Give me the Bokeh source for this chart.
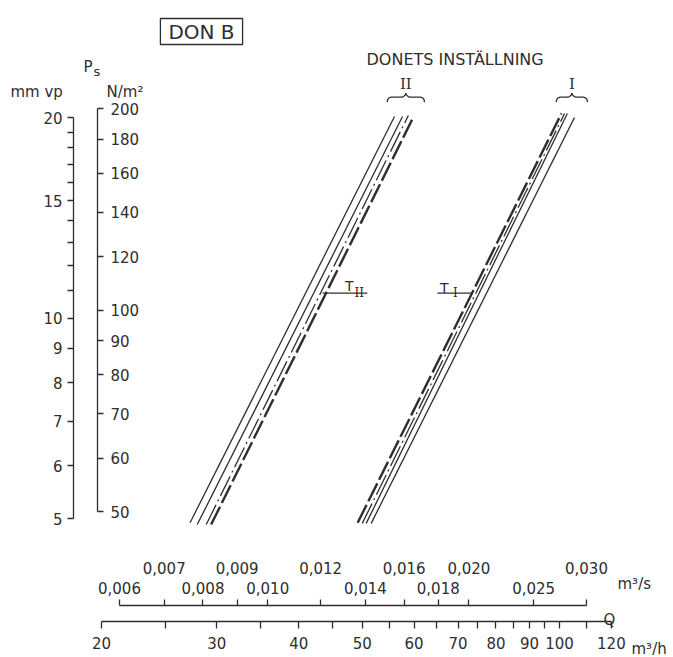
import numpy as np
from bokeh.plotting import figure
from bokeh.models import (LogAxis, FixedTicker, Range1d, LogScale,
                          CustomJSTickFormatter, Label)
from bokeh.embed import file_html
from bokeh.resources import INLINE

W, H = 673, 657
INK = "#2e2e2e"
FONT = "DejaVu Sans"

# ---------------- scales and tick values ----------------
ps_ticks = [50, 60, 70, 80, 90, 100, 120, 140, 160, 180, 200]          # N/m2
mmvp_major = [5, 6, 7, 8, 9, 10, 15, 20]                                # mm vp
mmvp_minor = [11, 12, 13, 14, 16, 17, 18, 19]
qh_major = [20, 30, 40, 50, 60, 70, 80, 90, 100, 120]                   # m3/h
qh_minor = [25, 35, 45, 55, 65, 75, 85, 95, 110]
qs_lower = [0.006, 0.008, 0.010, 0.014, 0.018, 0.025]                   # m3/s
qs_upper = [0.007, 0.009, 0.012, 0.016, 0.020, 0.030]

# ---------------- characteristic lines (Q in m3/h, Ps in N/m2) ----------------
line_setting = ["II", "II", "II", "II", "I", "I", "I", "I"]
line_style = ["solid", "solid", "dashdot", "dash", "dash", "dashdot", "solid", "solid"]
q_low = [27.3, 28.0, 28.9, 29.4, 49.2, 50.0, 50.7, 51.6]
p_low = [48.1, 47.8, 47.8, 47.8, 48.1, 48.0, 48.0, 48.0]
q_high = [56.0, 57.6, 58.8, 59.9, 100.7, 101.8, 102.8, 105.4]
p_high = [194.6, 194.6, 195.3, 194.6, 196.6, 196.6, 196.6, 193.9]

# T marks for each damper setting
t_names = ["II", "I"]
t_ps = [106, 106]
t_q_from = [43.5, 65.1]
t_q_to = [50.9, 73.7]

# braces grouping the lines of each setting
brace_names = ["II", "I"]
brace_q_left = [54.6, 98.9]
brace_q_right = [62.2, 110.3]
brace_ps = [208, 208]


def make_log_map(v1, p1, v2, p2):
    """Pixel <-> value mapping of a logarithmic scale through two anchors."""
    k = (p2 - p1) / (np.log10(v2) - np.log10(v1))
    to_px = lambda v: p1 + (np.log10(v) - np.log10(v1)) * k
    to_val = lambda px: 10 ** (np.log10(v1) + (px - p1) / k)
    return to_px, to_val


q_px, px_q = make_log_map(20, 101, 100, 559)        # main x: Q m3/h
ps_py, py_ps = make_log_map(200, 108, 50, 511)      # main y: Ps N/m2
mm_py, py_mm = make_log_map(20, 117, 5, 518)        # mm water column
qs_px, px_qs = make_log_map(0.006, 119, 0.030, 586)  # Q m3/s

p = figure(width=W, height=H, x_axis_type="log", y_axis_type="log",
           x_range=Range1d(px_q(0), px_q(W)), y_range=Range1d(py_ps(H), py_ps(0)),
           toolbar_location=None, output_backend="svg", title=None,
           min_border=0, outline_line_color=None)
p.below = []
p.left = []
p.center = []
p.background_fill_color = "white"
p.border_fill_color = "white"

p.extra_y_ranges = {"mmvp": Range1d(py_mm(H), py_mm(0))}
p.extra_y_scales = {"mmvp": LogScale()}
p.extra_x_ranges = {"m3s": Range1d(px_qs(0), px_qs(W))}
p.extra_x_scales = {"m3s": LogScale()}

int_fmt = CustomJSTickFormatter(code="return tick.toFixed(0)")
dec_fmt = CustomJSTickFormatter(code="return tick.toFixed(3).replace('.', ',')")


def style_axis(ax, tick=6, standoff=5, line=True, size="15px"):
    ax.axis_line_color = INK if line else None
    ax.axis_line_width = 1.3
    ax.major_tick_line_color = INK
    ax.minor_tick_line_color = INK
    ax.major_tick_line_width = 1.3
    ax.minor_tick_line_width = 1.3
    ax.major_tick_out = tick
    ax.major_tick_in = 0
    ax.minor_tick_out = tick
    ax.minor_tick_in = 0
    ax.major_label_text_font = FONT
    ax.major_label_text_font_size = size
    ax.major_label_text_color = INK
    ax.major_label_standoff = standoff
    ax.axis_label = None


# mm vp scale (labels on the left)
ax_mm = LogAxis(y_range_name="mmvp",
                ticker=FixedTicker(ticks=mmvp_major, minor_ticks=mmvp_minor),
                formatter=int_fmt, bounds=(5, 20), fixed_location=px_q(73))
style_axis(ax_mm, tick=6, standoff=5)
p.add_layout(ax_mm, "left")

# Ps scale in N/m2 (labels on the right)
ax_ps = LogAxis(ticker=FixedTicker(ticks=ps_ticks), formatter=int_fmt,
                bounds=(50, 200), fixed_location=px_q(97))
style_axis(ax_ps, tick=6, standoff=7)
p.add_layout(ax_ps, "right")

# Q scale in m3/s: two staggered label rows
ax_qs_lo = LogAxis(x_range_name="m3s", ticker=FixedTicker(ticks=qs_lower),
                   formatter=dec_fmt, bounds=(0.006, 0.030), fixed_location=py_ps(605))
style_axis(ax_qs_lo, tick=6, standoff=6)
p.add_layout(ax_qs_lo, "above")

ax_qs_up = LogAxis(x_range_name="m3s", ticker=FixedTicker(ticks=qs_upper),
                   formatter=dec_fmt, fixed_location=py_ps(605))
style_axis(ax_qs_up, tick=6, standoff=26, line=False)
p.add_layout(ax_qs_up, "above")

# Q scale in m3/h
ax_qh = LogAxis(ticker=FixedTicker(ticks=qh_major, minor_ticks=qh_minor),
                formatter=int_fmt, bounds=(20, 120), fixed_location=py_ps(621))
style_axis(ax_qh, tick=7, standoff=8)
p.add_layout(ax_qh, "below")

# ---------------- characteristic lines ----------------
dash_map = {"solid": "solid", "dash": "20 4", "dashdot": "22 4 2 4"}
width_map = {"solid": 1.3, "dash": 2.4, "dashdot": 1.3}
for i in range(len(q_low)):
    st = line_style[i]
    p.line([q_low[i], q_high[i]], [p_low[i], p_high[i]],
           line_color=INK, line_width=width_map[st], line_dash=dash_map[st])

# T marks
p.segment(x0=t_q_from, y0=t_ps, x1=t_q_to, y1=t_ps, line_color=INK, line_width=1.2)


def lab(text, x, y, size=15, align="left", baseline="alphabetic", font=FONT, **kw):
    p.add_layout(Label(x=x, y=H - y, x_units="screen", y_units="screen", text=text,
                       text_font=font, text_font_size=f"{size}px", text_color=INK,
                       text_align=align, text_baseline=baseline, **kw))


for name, qa, qb, ps in zip(t_names, t_q_from, t_q_to, t_ps):
    xa, xb, yy = q_px(qa), q_px(qb), ps_py(ps)
    if name == "II":
        lab("T", xb - 18, yy - 7, size=14, align="center")
        lab("II", xb - 8, yy, size=12, align="center", font="DejaVu Serif")
    else:
        lab("T", xa + 7, yy - 5, size=14, align="center")
        lab("I", xa + 18, yy, size=12, align="center", font="DejaVu Serif")


# braces over the line groups
def quad(a, c, b, n=8):
    t = np.linspace(0, 1, n)[:, None]
    return (1 - t) ** 2 * np.array(a) + 2 * (1 - t) * t * np.array(c) + t ** 2 * np.array(b)


for name, qa, qb, ps in zip(brace_names, brace_q_left, brace_q_right, brace_ps):
    x0, x1, y = q_px(qa), q_px(qb), ps_py(ps)
    xm = 0.5 * (x0 + x1)
    pts = np.vstack([
        quad((x0, y + 5), (x0, y), (x0 + 5, y)),
        quad((xm - 5, y), (xm - 1, y), (xm, y - 4)),
        quad((xm, y - 4), (xm + 1, y), (xm + 5, y)),
        quad((x1 - 5, y), (x1, y), (x1, y + 5)),
    ])
    p.line([px_q(v) for v in pts[:, 0]], [py_ps(v) for v in pts[:, 1]],
           line_color=INK, line_width=1.3)
    lab(name, xm, y - 13, size=15, align="center", font="DejaVu Serif")

# ---------------- texts ----------------
lab("DON B", 201, 31, size=20, align="center", baseline="middle",
    border_line_color=INK, border_line_width=1.3, padding=(8, 1))
lab("DONETS INSTÄLLNING", 366, 59, size=16)
lab("mm vp", 10, 91, size=15)
lab("P", 83, 66, size=15)
lab("s", 93, 71, size=13)
lab("N/m²", 106, 91, size=15)
lab("m³/s", 617, 583, size=15)
lab("Q", 603, 619, size=15)
lab("m³/h", 631, 648, size=15)

open("out.html", "w").write(file_html(p, INLINE))
